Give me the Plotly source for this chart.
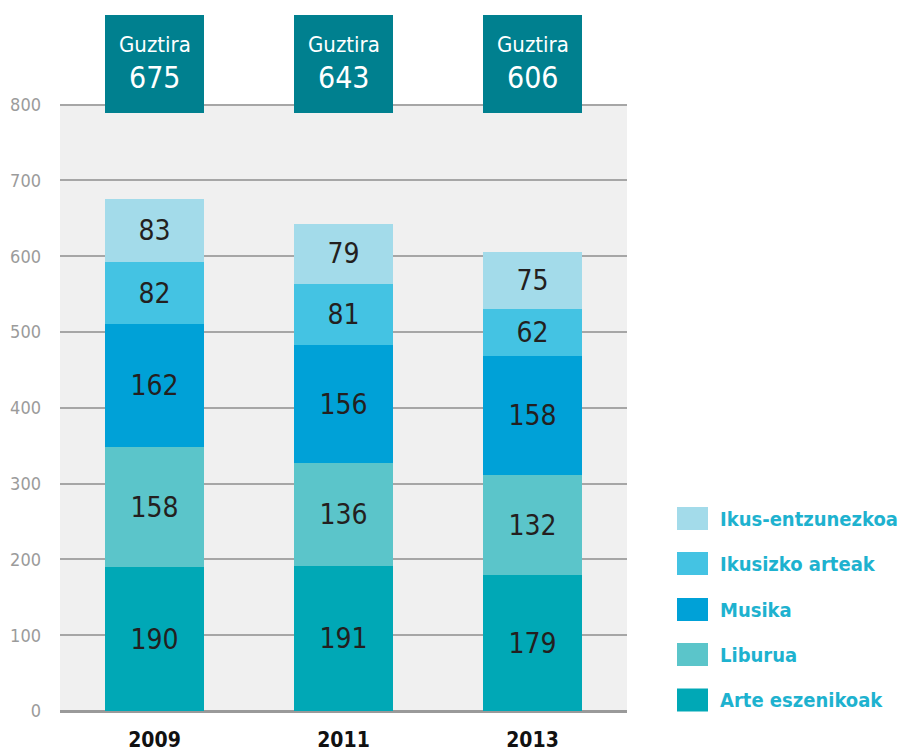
import plotly.graph_objects as go

# data
years = ["2009", "2011", "2013"]
arte_eszenikoak = [190, 191, 179]
liburua = [158, 136, 132]
musika = [162, 156, 158]
ikusizko_arteak = [82, 81, 62]
ikus_entzunezkoa = [83, 79, 75]
totals = [675, 643, 606]

series = [
    ("Arte eszenikoak", arte_eszenikoak, "#00a8b6"),
    ("Liburua", liburua, "#5bc5ca"),
    ("Musika", musika, "#00a1d7"),
    ("Ikusizko arteak", ikusizko_arteak, "#44c3e3"),
    ("Ikus-entzunezkoa", ikus_entzunezkoa, "#a3dbea"),
]

FONT = "DejaVu Sans Condensed, sans-serif"

# pixel helpers for the plot area (l=60, r=627, top=13, bottom=711)
def px_x(p):
    return (p - 60) / 567

def px_y(p):
    return (711 - p) / 698

fig = go.Figure()

for name, vals, col in series:
    fig.add_trace(go.Bar(
        x=years, y=vals, name=name,
        marker=dict(color=col, line=dict(width=0)),
        text=vals, textposition="inside", insidetextanchor="middle",
        textangle=0,
        textfont=dict(family=FONT, size=28, color="#231f20"),
        width=0.52, showlegend=False,
    ))

# "Guztira" boxes above the 800 line
fig.add_trace(go.Bar(
    x=years, y=[129] * len(years), base=789,
    marker=dict(color="#00808f", line=dict(width=0)),
    width=0.52, showlegend=False, hoverinfo="skip",
))
for i, t in enumerate(totals):
    fig.add_annotation(x=i, y=880, text="Guztira", showarrow=False,
                       font=dict(family=FONT, size=22, color="white"))
    fig.add_annotation(x=i, y=836, text=str(t), showarrow=False,
                       font=dict(family=FONT, size=30, color="white"))

# grey plot background only up to 800
fig.add_shape(type="rect", xref="x", yref="y", x0=-0.5, x1=2.5, y0=0, y1=800,
              fillcolor="#f0f0f0", line=dict(width=0), layer="below")

# manual legend
leg_y = [700, 654.5, 609.5, 563.5, 518.5]
for (name, vals, col), cy in zip(series, leg_y):
    fig.add_shape(type="rect", xref="paper", yref="paper",
                  x0=px_x(677), x1=px_x(708), y0=px_y(cy + 11.5), y1=px_y(cy - 11.5),
                  fillcolor=col, line=dict(width=0))
    fig.add_annotation(xref="paper", yref="paper", x=px_x(718), y=px_y(cy),
                       text=f"<b>{name}</b>", showarrow=False, xanchor="left",
                       yanchor="middle",
                       font=dict(family=FONT, size=20, color="#1eb2cf"))

fig.update_layout(
    width=902, height=755,
    margin=dict(l=60, r=275, t=13, b=44),
    barmode="stack",
    plot_bgcolor="white", paper_bgcolor="white",
    font=dict(family=FONT),
    xaxis=dict(type="category", range=[-0.5, 2.5], showgrid=False, showline=False, ticks="",
               ticklabelstandoff=14, automargin=False,
               tickfont=dict(family=FONT, size=21, color="#111111"),
               tickprefix="<b>", ticksuffix="</b>"),
    yaxis=dict(range=[0, 921], tickvals=[0, 100, 200, 300, 400, 500, 600, 700, 800],
               showgrid=True, gridcolor="#a6a6a6", gridwidth=1.5,
               zeroline=True, zerolinecolor="#9a9a9a", zerolinewidth=2.5,
               showline=False, ticks="", ticklabelstandoff=18, automargin=False,
               tickfont=dict(family=FONT, size=18, color="#9b9b9b")),
)

fig.write_html("out.html", config={"displayModeBar": False},
               post_script="document.body.style.margin='0';")
